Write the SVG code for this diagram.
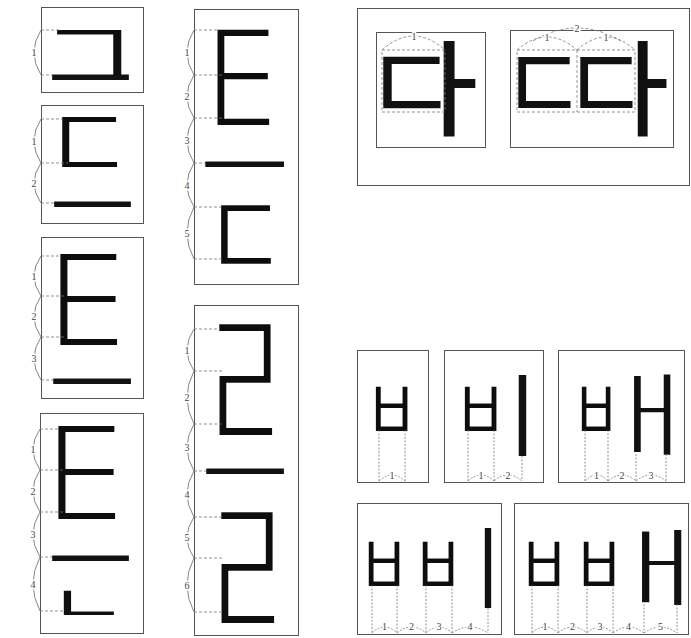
<svg xmlns="http://www.w3.org/2000/svg" width="691" height="638" viewBox="0 0 691 638">
<style>
.k{font-family:'Noto Sans CJK KR',sans-serif;font-size:120px;fill:#111}
.w1{font-weight:100}.w3{font-weight:300}.w4{font-weight:400}.w5{font-weight:500}.w7{font-weight:700}
.box{fill:none;stroke:#555;stroke-width:1}
.gd{fill:none;stroke:#777;stroke-width:0.8;stroke-dasharray:3 2}
.gv{fill:none;stroke:#777;stroke-width:0.8;stroke-dasharray:2 1.5}
.br{fill:none;stroke:#666;stroke-width:0.8}
.n{font-family:'Liberation Serif',serif;font-size:10px;fill:#444;text-anchor:middle;stroke:#fff;stroke-width:3;paint-order:stroke}
</style>
<defs>
<filter id="dx2" x="-0.2" y="-0.1" width="1.4" height="1.2"><feMorphology operator="dilate" radius="2 0"/></filter>
<filter id="dx1" x="-0.2" y="-0.1" width="1.4" height="1.2"><feMorphology operator="dilate" radius="1 0"/></filter>
</defs>
<rect width="691" height="638" fill="#fff"/>

<g id="box1">
<rect class="box" x="41.5" y="7.5" width="102" height="85"/>
<g filter="url(#dx1)"><text class="k w3" transform="matrix(0.945 0 0 0.8288 37.03 90.12)">ㄱ</text></g>
<text class="k w4" transform="matrix(0.7857 0 0 0.667 47.29 107.67)">ㅡ</text>
</g>
<g id="box2">
<rect class="box" x="41.5" y="105.5" width="102" height="118"/>
<g filter="url(#dx1)"><text class="k w3" transform="matrix(0.806 0 0 0.9009 44.26 182.44)">ㄷ</text></g>
<text class="k w4" transform="matrix(0.7857 0 0 0.667 49.29 234.67)">ㅡ</text>
</g>
<g id="box3">
<rect class="box" x="41.5" y="237.5" width="102" height="161"/>
<g filter="url(#dx2)"><text class="k w1" transform="matrix(0.806 0 0 1.657 42.86 372.72)">ㅌ</text></g>
<text class="k w4" transform="matrix(0.796 0 0 0.667 48.22 411.67)">ㅡ</text>
</g>
<g id="box4">
<rect class="box" x="40.5" y="413.5" width="103" height="220"/>
<g filter="url(#dx2)"><text class="k w1" transform="matrix(0.806 0 0 1.695 40.86 548.47)">ㅌ</text></g>
<text class="k w4" transform="matrix(0.7857 0 0 0.667 47.29 588.67)">ㅡ</text>
<text class="k w4" transform="matrix(0.7286 0 0 0.431 47.7 622.33)">ㄴ</text>
</g>
<g id="box5">
<rect class="box" x="194.5" y="9.5" width="104" height="275"/>
<g filter="url(#dx2)"><text class="k w1" transform="matrix(0.7287 0 0 1.752 201.69 154.6)">ㅌ</text></g>
<text class="k w4" transform="matrix(0.806 0 0 0.667 200.16 194.67)">ㅡ</text>
<g filter="url(#dx1)"><text class="k w3" transform="matrix(0.7287 0 0 1.045 205.06 281.07)">ㄷ</text></g>
</g>
<g id="box6">
<rect class="box" x="194.5" y="305.5" width="104" height="330"/>
<g filter="url(#dx2)"><text class="k w1" transform="matrix(0.7244 0 0 1.924 204.8 464)">ㄹ</text></g>
<text class="k w4" transform="matrix(0.796 0 0 0.667 201.22 501.67)">ㅡ</text>
<g filter="url(#dx2)"><text class="k w1" transform="matrix(0.7244 0 0 1.924 206.8 652)">ㄹ</text></g>
</g>

<g id="panel-da">
<rect class="box" x="357.5" y="8.5" width="332" height="177"/>
<g id="da">
<rect class="box" x="376.5" y="32.5" width="109" height="115"/>
<text class="k w4" transform="matrix(0.851 0 0 0.8966 364.28 123.24)">ㄷ</text>
<text class="k w5" transform="matrix(0.865 0 0 0.873 404.2 127.3)">ㅏ</text>
</g>
<g id="tta">
<rect class="box" x="510.5" y="30.5" width="163" height="117"/>
<text class="k w4" transform="matrix(0.776 0 0 0.879 500.93 121.95)">ㄷ</text>
<text class="k w4" transform="matrix(0.776 0 0 0.879 562.93 121.95)">ㄷ</text>
<text class="k w5" transform="matrix(0.784 0 0 0.873 601.9 127.3)">ㅏ</text>
</g>
</g>

<g id="boxA">
<rect class="box" x="357.5" y="350.5" width="71" height="132"/>
<g filter="url(#dx1)"><text class="k w3" transform="matrix(0.451 0 0 0.779 366.51 444.23)">ㅂ</text></g>
</g>
<g id="boxB">
<rect class="box" x="444.5" y="350.5" width="99" height="132"/>
<g filter="url(#dx1)"><text class="k w3" transform="matrix(0.451 0 0 0.779 455.51 444.23)">ㅂ</text></g>
<text class="k w7" transform="matrix(0.467 0 0 0.736 496.6 449.36)">ㅣ</text>
</g>
<g id="boxC">
<rect class="box" x="558.5" y="350.5" width="126" height="132"/>
<g filter="url(#dx1)"><text class="k w3" transform="matrix(0.406 0 0 0.779 573.56 444.23)">ㅂ</text></g>
<text class="k w3" transform="matrix(1.075 0 0 0.758 591.88 448.1)">ㅐ</text>
</g>
<g id="boxD">
<rect class="box" x="357.5" y="503.5" width="144" height="131"/>
<g filter="url(#dx1)"><text class="k w3" transform="matrix(0.436 0 0 0.779 359.86 599.23)">ㅂ</text></g>
<g filter="url(#dx1)"><text class="k w3" transform="matrix(0.436 0 0 0.779 413.86 599.23)">ㅂ</text></g>
<text class="k w7" transform="matrix(0.4 0 0 0.727 465.8 601.45)">ㅣ</text>
</g>
<g id="boxE">
<rect class="box" x="514.5" y="503.5" width="174" height="131"/>
<g filter="url(#dx1)"><text class="k w3" transform="matrix(0.436 0 0 0.779 519.86 599.23)">ㅂ</text></g>
<g filter="url(#dx1)"><text class="k w3" transform="matrix(0.436 0 0 0.779 574.86 599.23)">ㅂ</text></g>
<text class="k w3" transform="matrix(1.164 0 0 0.711 596.48 598.5)">ㅐ</text>
</g>

<g id="connectors">
<path class="gd" d="M41 30H60M41 75H52
M41 119H62M41 163H68M41 203H54
M41 256H60M41 296H66M41 337H66M41 380H53
M40 429H58M40 470H64M40 512H64M40 557H52M40 611H64
M194 30H217M194 75H222M194 118H222M194 163H205M194 207H221M194 259H222
M194 329H220M194 371H222M194 424H222M194 471H206M194 517H222M194 558H222M194 612H222"/>
<path class="br" d="M41 30Q27 52.5 41 75
M41 119Q27 141 41 163M41 163Q27 183 41 203
M41 256Q27 276 41 296M41 296Q27 316.5 41 337M41 337Q27 358.5 41 380
M40 429Q26 449.5 40 470M40 470Q26 491 40 512M40 512Q26 534.5 40 557M40 557Q26 584 40 611
M194 30Q180 52.5 194 75M194 75Q180 96.5 194 118M194 118Q180 140.5 194 163M194 163Q180 185 194 207M194 207Q180 233 194 259
M194 329Q180 350 194 371M194 371Q180 397.5 194 424M194 424Q180 447.5 194 471M194 471Q180 494 194 517M194 517Q180 537.5 194 558M194 558Q180 585 194 612"/>
<rect class="gd" x="382" y="50" width="63" height="62"/>
<path class="gd" d="M382 50Q413.5 22 445 50"/>
<rect class="gd" x="517" y="50" width="118" height="62"/>
<path class="gd" d="M577 50V112M517 50Q547 24 577 50M577 50Q606 24 635 50M533 41Q577 15 621 41"/>
<path class="gv" d="M379 430V481M405 430V481
M468 430V481M494 430V481M522 456V481
M585 430V481M608 430V481M636 454V481M666 454V481
M372 585V633M397 585V633M426 585V633M452 585V633M488 608V633
M532 585V633M558 585V633M587 585V633M613 585V633M644 604V633M677 604V633"/>
<path class="gv" d="M379 481Q392 469 405 481
M468 481Q481 469 494 481M494 481Q508 469 522 481
M585 481Q596.5 469 608 481M608 481Q622 469 636 481M636 481Q651 469 666 481
M372 633Q384.5 621 397 633M397 633Q411.5 621 426 633M426 633Q439 621 452 633M452 633Q470 621 488 633
M532 633Q545 621 558 633M558 633Q572.5 621 587 633M587 633Q600 621 613 633M613 633Q628.5 621 644 633M644 633Q660.5 621 677 633"/>
</g>

<g id="labels">
<text class="n" x="34" y="56">1</text>
<text class="n" x="34" y="144.5">1</text>
<text class="n" x="34" y="186.5">2</text>
<text class="n" x="34" y="279.5">1</text>
<text class="n" x="34" y="320">2</text>
<text class="n" x="34" y="362">3</text>
<text class="n" x="33" y="453">1</text>
<text class="n" x="33" y="494.5">2</text>
<text class="n" x="33" y="538">3</text>
<text class="n" x="33" y="587.5">4</text>
<text class="n" x="187" y="56">1</text>
<text class="n" x="187" y="100">2</text>
<text class="n" x="187" y="144">3</text>
<text class="n" x="187" y="188.5">4</text>
<text class="n" x="187" y="236.5">5</text>
<text class="n" x="187" y="353.5">1</text>
<text class="n" x="187" y="401">2</text>
<text class="n" x="187" y="451">3</text>
<text class="n" x="187" y="497.5">4</text>
<text class="n" x="187" y="541">5</text>
<text class="n" x="187" y="588.5">6</text>
<text class="n" x="414" y="40">1</text>
<text class="n" x="547" y="41">1</text>
<text class="n" x="606" y="41">1</text>
<text class="n" x="577" y="32">2</text>
<text class="n" x="392" y="479">1</text>
<text class="n" x="481" y="479">1</text>
<text class="n" x="508" y="479">2</text>
<text class="n" x="596.5" y="479">1</text>
<text class="n" x="622" y="479">2</text>
<text class="n" x="651" y="479">3</text>
<text class="n" x="384.5" y="630">1</text>
<text class="n" x="411.5" y="630">2</text>
<text class="n" x="439" y="630">3</text>
<text class="n" x="470" y="630">4</text>
<text class="n" x="545" y="630">1</text>
<text class="n" x="572.5" y="630">2</text>
<text class="n" x="600" y="630">3</text>
<text class="n" x="628.5" y="630">4</text>
<text class="n" x="660.5" y="630">5</text>
</g>
</svg>
